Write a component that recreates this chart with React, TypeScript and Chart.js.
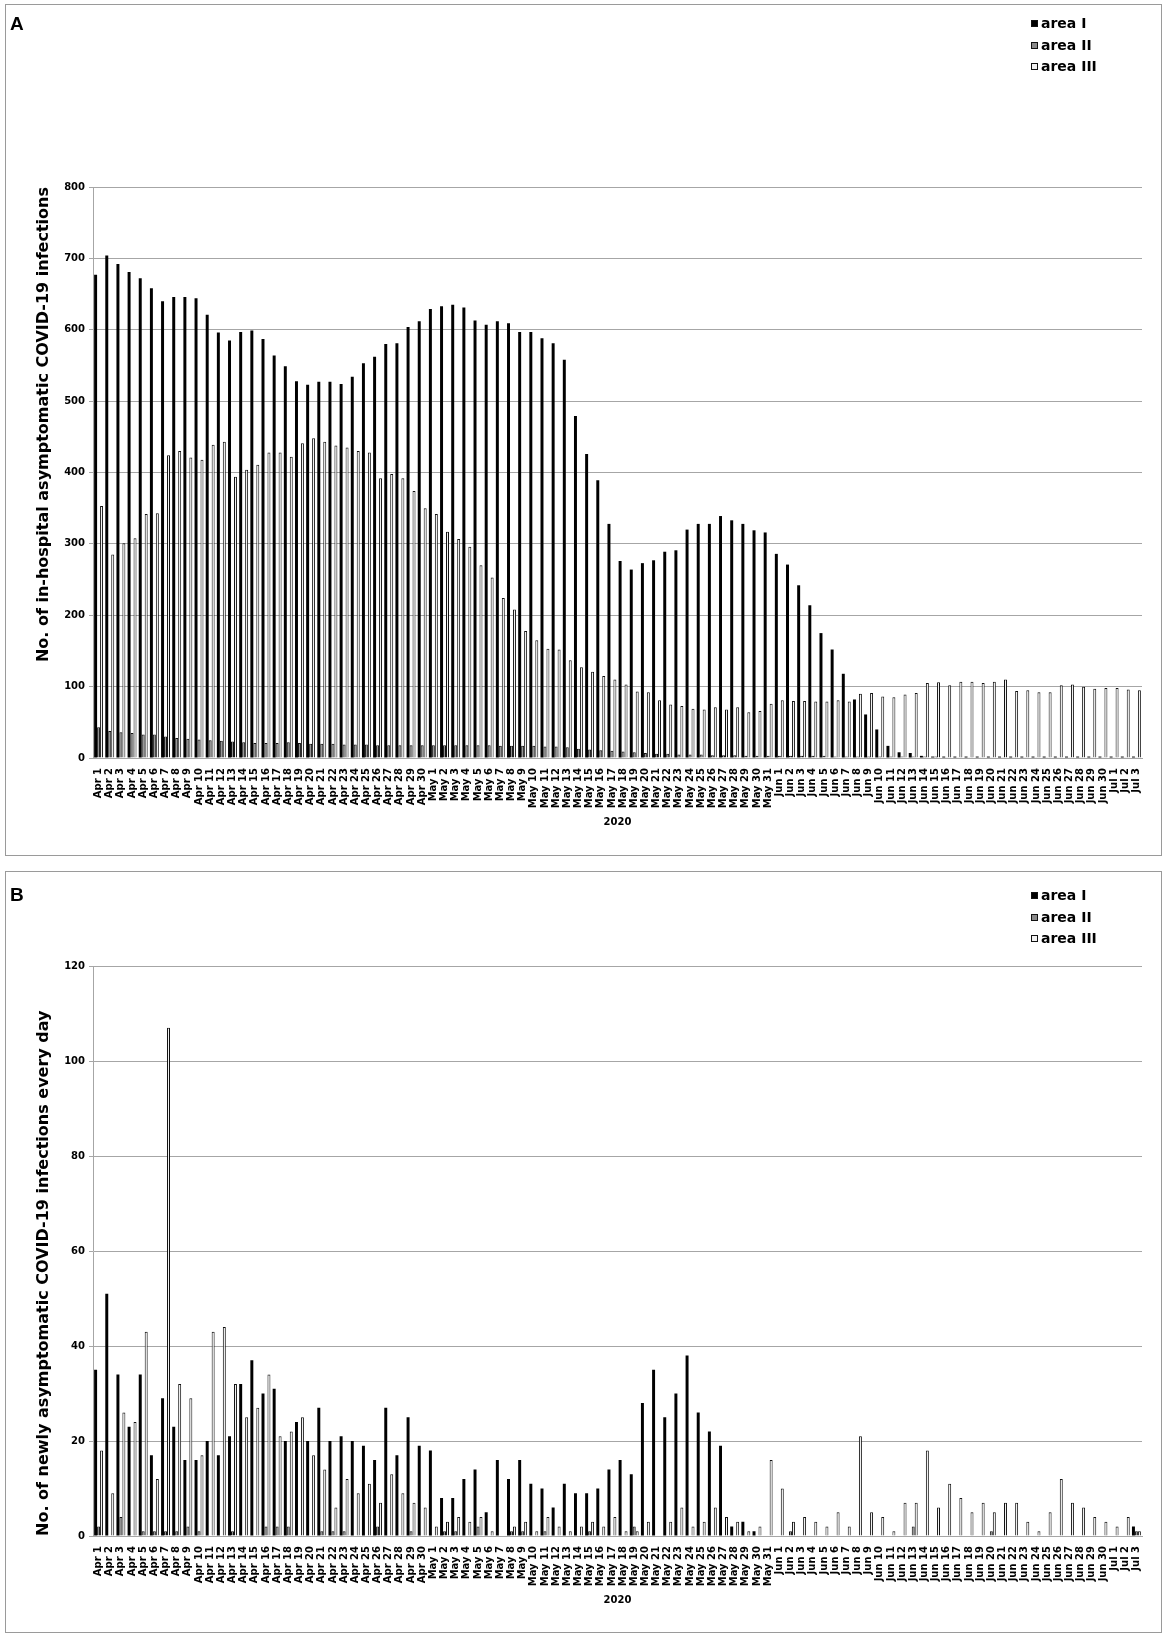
import React, { useEffect, useRef } from "react";
import { Chart, registerables } from "chart.js";

Chart.register(...registerables);

// ---- data -----------------------------------------------------------------

const MONTHS: [string, number][] = [
  ["Apr", 30],
  ["May", 31],
  ["Jun", 30],
  ["Jul", 3],
];
const dates = MONTHS.flatMap(([m, n]) => Array.from({ length: n }, (_, i) => `${m} ${i + 1}`));

const seriesNames = ["area I", "area II", "area III"];

// A: in-hospital asymptomatic infections
const hospAreaI = [
  677, 704, 692, 681, 672, 658, 640, 646, 646, 644, 621, 596, 585, 597, 599, 587, 564, 549, 528, 523, 527, 527, 524, 534, 553, 562, 580, 581, 604, 612,
  629, 633, 635, 631, 613, 607, 612, 609, 597, 597, 588, 581, 558, 479, 426, 389, 328, 276, 264, 273, 277, 289, 291, 320, 328, 328, 339, 333, 328, 319, 316,
  286, 271, 242, 214, 175, 152, 118, 82, 61, 40, 17, 8, 7, 3, 2, 2, 2, 2, 2, 2, 2, 2, 2, 2, 2, 2, 2, 2, 2, 2,
  2, 2, 2,
];
const hospAreaII = [
  43, 38, 36, 35, 33, 33, 30, 28, 27, 26, 25, 24, 23, 22, 21, 21, 21, 22, 21, 20, 20, 20, 19, 19, 19, 18, 18, 18, 18, 18,
  18, 18, 18, 18, 18, 18, 17, 17, 17, 17, 16, 16, 15, 13, 12, 11, 10, 9, 8, 7, 6, 6, 5, 5, 5, 4, 4, 4, 3, 3, 3,
  3, 3, 3, 3, 3, 2, 2, 2, 2, 2, 2, 2, 2, 2, 2, 1, 1, 1, 1, 1, 1, 1, 1, 1, 1, 1, 1, 1, 1, 1,
  1, 1, 1,
];
const hospAreaIII = [
  353, 285, 301, 308, 342, 343, 424, 430, 421, 418, 439, 443, 394, 404, 411, 428, 428, 422, 441, 448, 443, 438, 435, 430, 428, 392, 398, 392, 374, 350,
  342, 317, 307, 296, 270, 253, 224, 208, 178, 165, 153, 152, 137, 127, 121, 115, 110, 103, 93, 92, 81, 75, 73, 69, 68, 71, 68, 71, 64, 66, 76,
  81, 80, 80, 79, 79, 81, 79, 90, 91, 86, 85, 89, 91, 105, 106, 102, 107, 107, 105, 107, 110, 94, 95, 92, 92, 102, 103, 100, 97, 98,
  98, 96, 95,
];

// B: newly reported asymptomatic infections per day
const newAreaI = [
  35, 51, 34, 23, 34, 17, 29, 23, 16, 16, 20, 17, 21, 32, 37, 30, 31, 20, 24, 20, 27, 20, 21, 20, 19, 16, 27, 17, 25, 19,
  18, 8, 8, 12, 14, 5, 16, 12, 16, 11, 10, 6, 11, 9, 9, 10, 14, 16, 13, 28, 35, 25, 30, 38, 26, 22, 19, 2, 3, 1, 0,
  0, 0, 0, 0, 0, 0, 0, 0, 0, 0, 0, 0, 0, 0, 0, 0, 0, 0, 0, 0, 0, 0, 0, 0, 0, 0, 0, 0, 0, 0,
  0, 0, 2,
];
const newAreaII = [
  2, 0, 4, 0, 1, 1, 1, 1, 2, 1, 0, 0, 1, 0, 0, 2, 2, 2, 0, 0, 1, 1, 1, 0, 0, 2, 0, 0, 1, 0,
  0, 1, 1, 0, 2, 0, 0, 1, 1, 0, 1, 0, 0, 0, 1, 0, 0, 0, 2, 0, 0, 0, 0, 0, 0, 0, 0, 0, 0, 0, 0,
  0, 1, 0, 0, 0, 0, 0, 0, 0, 0, 0, 0, 2, 0, 0, 0, 0, 0, 0, 1, 0, 0, 0, 0, 0, 0, 0, 0, 0, 0,
  0, 0, 1,
];
const newAreaIII = [
  18, 9, 26, 24, 43, 12, 107, 32, 29, 17, 43, 44, 32, 25, 27, 34, 21, 22, 25, 17, 14, 6, 12, 9, 11, 7, 13, 9, 7, 6,
  2, 3, 4, 3, 4, 1, 0, 2, 3, 1, 4, 2, 1, 2, 3, 2, 4, 1, 1, 3, 0, 3, 6, 2, 3, 6, 4, 3, 1, 2, 16,
  10, 3, 4, 3, 2, 5, 2, 21, 5, 4, 1, 7, 7, 18, 6, 11, 8, 5, 7, 5, 7, 7, 3, 1, 5, 12, 7, 6, 4, 3,
  2, 4, 1,
];

// ---- styling --------------------------------------------------------------

const FONT = "'DejaVu Sans', Verdana, sans-serif";
const GRID = "#a6a6a6";
const FILLS = ["#000000", "#8a8a8a", "#f2f2f2"];
const FRAME_LEFT = 5;
const FRAME_W = 1157;
const X_AXIS_H = 73;

// small vertical legend drawn in the top-right corner of each panel
const cornerLegend = {
  id: "cornerLegend",
  afterDraw(chart: any, _args: any, opts: any) {
    const { ctx } = chart;
    ctx.save();
    ctx.font = `bold 14px ${FONT}`;
    ctx.textBaseline = "middle";
    chart.data.datasets.forEach((ds: any, i: number) => {
      const y = Math.round(opts.y + i * opts.gap);
      ctx.fillStyle = ds.backgroundColor;
      ctx.fillRect(opts.x, y - 3, 7, 7);
      ctx.strokeStyle = "#111";
      ctx.lineWidth = 1;
      ctx.strokeRect(opts.x + 0.5, y - 2.5, 6, 6);
      ctx.fillStyle = "#000";
      ctx.fillText(ds.label, opts.x + 10, y + 1);
    });
    ctx.restore();
  },
};

interface PanelProps {
  letter: string;
  letterTop: number;
  frameTop: number;
  frameHeight: number;
  plotTop: number;
  plotBottom: number;
  yMax: number;
  yStep: number;
  yTitle: string;
  titleAlign: "start" | "center" | "end";
  series: number[][];
  legendY: number;
}

const Panel: React.FC<PanelProps> = ({
  letter,
  letterTop,
  frameTop,
  frameHeight,
  plotTop,
  plotBottom,
  yMax,
  yStep,
  yTitle,
  titleAlign,
  series,
  legendY,
}) => {
  const canvasRef = useRef<HTMLCanvasElement | null>(null);
  const innerW = FRAME_W - 2;
  const innerH = frameHeight - 2;

  useEffect(() => {
    if (!canvasRef.current) return;
    const chart = new Chart(canvasRef.current, {
      type: "bar",
      data: {
        labels: dates,
        datasets: series.map((data, i) => ({
          label: seriesNames[i],
          data,
          backgroundColor: FILLS[i],
          borderColor: "#111",
          borderWidth: i === 0 ? 0 : 1,
          categoryPercentage: 0.8,
          barPercentage: 1,
        })),
      },
      options: {
        animation: false,
        responsive: false,
        maintainAspectRatio: false,
        layout: {
          padding: { left: 28, right: 19, top: plotTop, bottom: innerH - plotBottom - X_AXIS_H },
        },
        plugins: {
          legend: { display: false },
          tooltip: { enabled: false },
          cornerLegend: { x: 1025, y: legendY, gap: 21.7 },
        } as any,
        scales: {
          x: {
            grid: { display: false },
            border: { display: true, color: GRID },
            ticks: {
              autoSkip: false,
              maxRotation: 90,
              minRotation: 90,
              padding: 2,
              color: "#000",
              font: { family: FONT, size: 10, weight: "bold" },
            },
            title: {
              display: true,
              text: "2020",
              color: "#000",
              font: { family: FONT, size: 10, weight: "bold" },
              padding: { top: 0, bottom: 3 },
            },
            afterFit: (s: any) => {
              s.height = X_AXIS_H;
            },
          },
          y: {
            min: 0,
            max: yMax,
            ticks: {
              stepSize: yStep,
              padding: 4,
              color: "#000",
              font: { family: FONT, size: 10, weight: "bold" },
            },
            grid: { color: GRID, tickLength: 4 },
            border: { display: true, color: GRID },
            title: {
              display: true,
              text: yTitle,
              align: titleAlign,
              color: "#000",
              font: { family: FONT, size: 16, weight: "bold" },
              padding: 0,
            },
            afterFit: (s: any) => {
              s.width = 59;
            },
          },
        },
      },
      plugins: [cornerLegend],
    });
    return () => {
      chart.destroy();
    };
  }, []);

  return (
    <div
      style={{
        position: "absolute",
        left: FRAME_LEFT,
        top: frameTop,
        width: FRAME_W,
        height: frameHeight,
        boxSizing: "border-box",
        border: "1px solid #9a9a9a",
        background: "#fff",
      }}
    >
      <canvas ref={canvasRef} width={innerW} height={innerH} style={{ display: "block", width: innerW, height: innerH }} />
      <div
        style={{
          position: "absolute",
          left: 4,
          top: letterTop,
          font: "bold 19px 'Liberation Sans', Arial, sans-serif",
          lineHeight: "19px",
        }}
      >
        {letter}
      </div>
    </div>
  );
};

export default function App() {
  return (
    <div style={{ position: "absolute", left: 0, top: 0, width: 1166, height: 1637, background: "#fff" }}>
      <Panel
        letter="A"
        letterTop={8.5}
        frameTop={4}
        frameHeight={852}
        plotTop={182}
        plotBottom={753}
        yMax={800}
        yStep={100}
        yTitle="No. of in-hospital asymptomatic COVID-19 infections"
        titleAlign="end"
        series={[hospAreaI, hospAreaII, hospAreaIII]}
        legendY={18}
      />
      <Panel
        letter="B"
        letterTop={13}
        frameTop={871}
        frameHeight={762}
        plotTop={94}
        plotBottom={664}
        yMax={120}
        yStep={20}
        yTitle="No. of newly asymptomatic COVID-19 infections every day"
        titleAlign="start"
        series={[newAreaI, newAreaII, newAreaIII]}
        legendY={23}
      />
    </div>
  );
}
